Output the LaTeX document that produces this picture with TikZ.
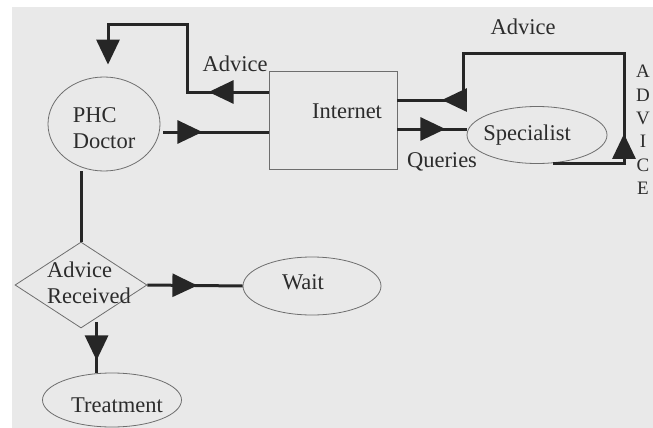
\documentclass[tikz,border=0pt]{standalone}
\usepackage{fontspec}
\setmainfont{Liberation Serif}
\usetikzlibrary{arrows.meta,shapes.geometric,decorations.markings}
\definecolor{bgc}{HTML}{E9E9E9}
\definecolor{ink}{HTML}{262626}
\definecolor{rim}{HTML}{6E6E6E}
\definecolor{txtc}{HTML}{2C2C2C}
\tikzset{
  bigtip/.tip={Triangle[length=25pt,width=23pt]},
  shapebox/.style={draw=rim, line width=0.8pt, inner sep=0pt},
  oval/.style={shapebox, ellipse},
  conn/.style={draw=ink, line width=3pt, line join=miter},
  midtip/.style={decoration={markings, mark=at position #1 with {\arrow[ink]{bigtip}}}, postaction={decorate}},
  lbl/.style={text=txtc, inner sep=0pt, font=\fontsize{22.5}{26}\selectfont},
}
\begin{document}
\begin{tikzpicture}[x=1pt, y=-1pt]
\useasboundingbox (0,0) rectangle (653,428);
\fill[bgc] (12,7) rectangle (653,428);

% shapes
\node[oval, minimum width=112pt, minimum height=94pt] (phc) at (104,124) {};
\node[shapebox, rectangle, minimum width=128pt, minimum height=98pt] (inet) at (333,120) {};
\node[oval, minimum width=140pt, minimum height=57pt] (spec) at (537,135) {};
\node[shapebox, diamond, minimum width=132pt, minimum height=86pt] (dec) at (81,285) {};
\node[oval, minimum width=138pt, minimum height=58pt] (wait) at (312,286) {};
\node[oval, minimum width=139pt, minimum height=54pt] (treat) at (112,400) {};

% texts inside the shapes
\node[lbl, align=left] (phcT) at (104,128) {PHC\\Doctor};
\node[lbl] (inetT) at (347,111) {Internet};
\node[lbl] (specT) at (527,135) {Specialist};
\node[lbl, align=left] (decT) at (89,283) {Advice\\Received};
\node[lbl] (waitT) at (303,282) {Wait};
\node[lbl] (treatT) at (117,405) {Treatment};

% connector labels
\node[lbl] (advTop) at (523,27) {Advice};
\node[lbl] (advLeft) at (235,64) {Advice};
\node[lbl] (queries) at (442,162) {Queries};
\node[lbl, align=center, font=\fontsize{19}{23.4}\selectfont] (advVert) at (643,130) {A\\D\\V\\I\\C\\E};

% corners of the loops
\coordinate (k1) at (187,25);
\coordinate (k2) at (108,25);
\coordinate (c1) at (624,54);
\coordinate (c2) at (463,54);

% Internet -> PHC Doctor
\draw[conn, -{bigtip}, shorten >=12pt, midtip=60pt]
  ([yshift=28pt]inet.west) -| (k1) -- (k2) -- (k2 |- phc.north);
% PHC Doctor -> Internet
\draw[conn, midtip=39pt]
  ([shift={(3,8)}]phc.east) -- ([yshift=-12pt]inet.west);
% Internet -> Specialist
\draw[conn, midtip=48pt]
  ([yshift=-9pt]inet.east) -- ([yshift=6pt]spec.west);
% Specialist -> Internet
\draw[conn, decoration={markings,
    mark=at position 100pt with {\arrow[ink]{bigtip}},
    mark=at position 408pt with {\arrow[ink]{bigtip}}}, postaction={decorate}]
  (spec.-60) -| (c1) -- (c2) |- ([yshift=20pt]inet.east);
% PHC Doctor -- Advice Received
\draw[conn] (dec.north |- phc.south) -- (dec.north);
% Advice Received -> Wait
\draw[conn, midtip=50pt] (dec.east) -- (wait.west);
% Advice Received -> Treatment
\draw[conn, midtip=38pt] ([yshift=6pt]treat.120 |- dec.south) -- (treat.120);
\end{tikzpicture}
\end{document}
